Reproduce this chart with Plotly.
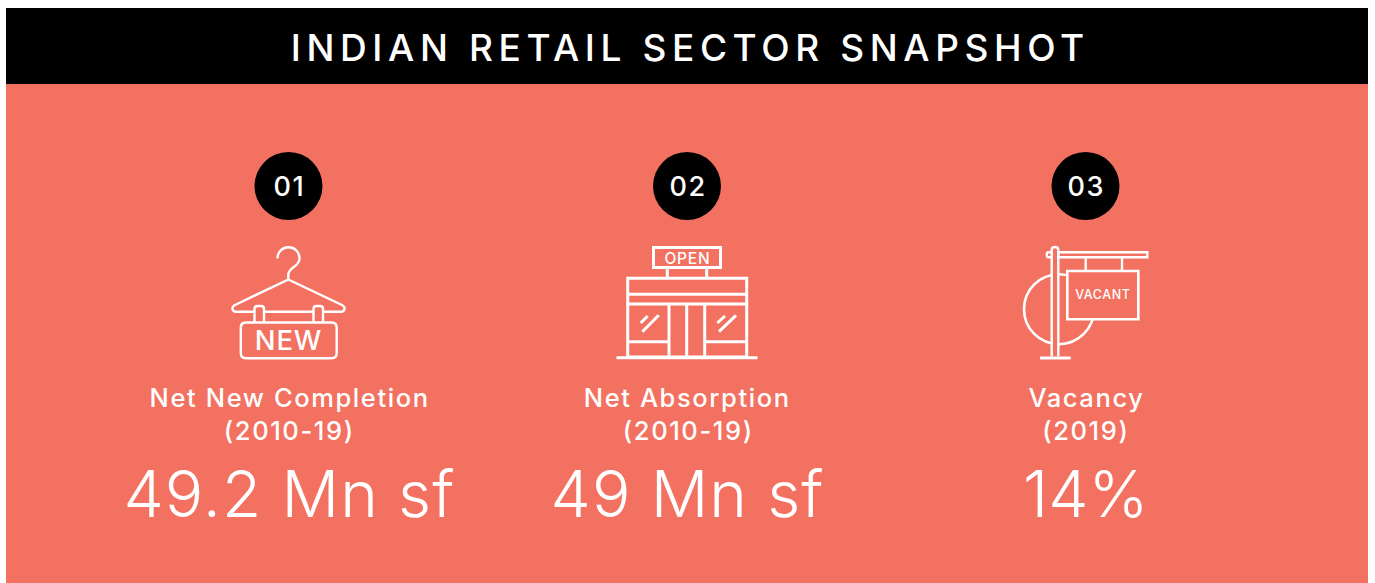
import json
import plotly.graph_objects as go

# ---- content ----
heading = "INDIAN RETAIL SECTOR SNAPSHOT"
badges = ["01", "02", "03"]
metrics = ["Net New Completion", "Net Absorption", "Vacancy"]
periods = ["(2010-19)", "(2010-19)", "(2019)"]
values = ["49.2 Mn sf", "49 Mn sf", "14%"]
icon_words = ["NEW", "OPEN", "VACANT"]

# ---- layout ----
W, H = 1375, 583
CORAL = "#F37161"
WHITE = "#FFFFFF"
FONT = "Inter"
col_x = [288.5, 687, 1085.5]

shapes = []


def rect(x0, y0, x1, y1, fill=None, lw=0, line=WHITE):
    shapes.append(dict(type="rect", x0=x0, y0=y0, x1=x1, y1=y1,
                       fillcolor=fill or "rgba(0,0,0,0)",
                       line=dict(color=line, width=lw)))


def path(d, lw=2.4, fill=None):
    shapes.append(dict(type="path", path=d,
                       fillcolor=fill or "rgba(0,0,0,0)",
                       line=dict(color=WHITE, width=lw)))


def seg(x0, y0, x1, y1, lw=3.0):
    shapes.append(dict(type="line", x0=x0, y0=y0, x1=x1, y1=y1,
                       line=dict(color=WHITE, width=lw)))


# panels
rect(6, 84, 1368, 583, fill=CORAL)
rect(6, 8, 1368, 84, fill="#000000")

# badges
for cx in col_x:
    shapes.append(dict(type="circle", x0=cx - 34, x1=cx + 34, y0=152, y1=220,
                       fillcolor="#000000", line=dict(width=0)))

# hanger icon
hook = ("M 277.5 258.5 C 277.5 243.5 299.5 243.5 299.5 258.5 "
        "C 299.5 267 288.3 267 288.3 275 L 288.3 279.5 "
        "L 235 305 C 231 307 232 311.8 236 311.8 L 341 311.8 "
        "C 345 311.8 346 307 342 305 L 288.3 279.5")
path(hook, lw=2.4)
path("M 254.5 322 L 254.5 309 Q 254.5 306 257.5 306 L 261 306 Q 264 306 264 309 L 264 322", lw=2.4, fill=CORAL)
path("M 313.5 322 L 313.5 309 Q 313.5 306 316.5 306 L 320 306 Q 323 306 323 309 L 323 322", lw=2.4, fill=CORAL)
path("M 246 322.5 L 331.5 322.5 Q 336.7 322.5 336.7 327.5 L 336.7 353 Q 336.7 358.3 331.5 358.3 "
     "L 246 358.3 Q 240.8 358.3 240.8 353 L 240.8 327.5 Q 240.8 322.5 246 322.5 Z", lw=2.4)

# storefront icon
rect(653.5, 247.5, 720.5, 267.5, lw=3)
seg(667.3, 267.5, 667.3, 278)
seg(706.7, 267.5, 706.7, 278)
rect(627.7, 278.3, 746.7, 357, lw=3)
seg(627.7, 294.3, 746.7, 294.3)
seg(627.7, 304, 746.7, 304)
for vx in (669, 686.7, 704.7):
    seg(vx, 304, vx, 357)
seg(627.7, 341.7, 669, 341.7)
seg(704.7, 341.7, 746.7, 341.7)
seg(616.5, 357.8, 757.5, 357.8)
seg(642.3, 331.7, 658.7, 315.3)
seg(640.7, 323, 647.7, 316)
seg(719, 331.7, 736, 315.3)
seg(717.3, 323, 725, 316)

# vacant sign icon: circle is masked by the post and the sign panel drawn over it
shapes.append(dict(type="circle", x0=1024, x1=1094, y0=274.2, y1=344.2,
                   fillcolor="rgba(0,0,0,0)", line=dict(color=WHITE, width=2.6)))
rect(1051.7, 247, 1058.3, 357, fill=CORAL)
path("M 1051.7 356.5 L 1051.7 250 Q 1051.7 247 1055 247 Q 1058.3 247 1058.3 250 L 1058.3 356.5", lw=2.4)
path("M 1051.7 252.3 L 1048.5 252.3 Q 1046.7 252.3 1046.7 254.8 Q 1046.7 257.3 1048.5 257.3 L 1051.7 257.3", lw=2.4)
rect(1058.3, 252.3, 1147.3, 257.3, lw=2.4)
seg(1040, 358, 1070.7, 358)
seg(1085.7, 257.3, 1085.7, 271, lw=2.4)
seg(1122, 257.3, 1122, 271, lw=2.4)
rect(1067.3, 271, 1138.3, 319.3, fill=CORAL, lw=2.6)

# ---- text ----
ann = []
spacing = {}


def text(x, y, s, size, weight=400, sp=0):
    ann.append(dict(x=x + sp / 2, y=y, text=s, showarrow=False, xanchor="center", yanchor="middle",
                    font=dict(family=FONT, size=size, color=WHITE, weight=weight)))
    spacing[s] = sp


text(688, 47, heading, 37, 500, 5.6)
for cx, b, m, p, v in zip(col_x, badges, metrics, periods, values):
    text(cx, 186.5, b, 27, 500, 1.5)
    text(cx, 397.5, m, 25.5, 500, 1.6)
    text(cx, 430.5, p, 25.5, 500, 1.6)
    text(cx, 493, v, 64, 300, 0 if v.endswith("%") else 1.1)
text(288, 340, icon_words[0], 27.5, 500, 0.8)
text(687, 258, icon_words[1], 15.5, 500, 0.8)
text(1102.5, 294.5, icon_words[2], 12.5, 500, 0.6)

fig = go.Figure()
fig.update_layout(
    width=W, height=H, margin=dict(l=0, r=0, t=0, b=0),
    paper_bgcolor=WHITE, plot_bgcolor=WHITE, showlegend=False,
    xaxis=dict(range=[0, W], visible=False, fixedrange=True),
    yaxis=dict(range=[H, 0], visible=False, fixedrange=True),
    shapes=shapes, annotations=ann,
)

post = """
document.documentElement.style.margin='0';
document.body.style.margin='0';
document.body.style.overflow='hidden';
var sp=%s;
document.querySelectorAll('.annotation-text').forEach(function(t){
  var v=sp[t.textContent];
  if(v){t.style.letterSpacing=v+'px';}
});
""" % json.dumps(spacing)
fig.write_html("out.html", post_script=post, config={"displayModeBar": False})
